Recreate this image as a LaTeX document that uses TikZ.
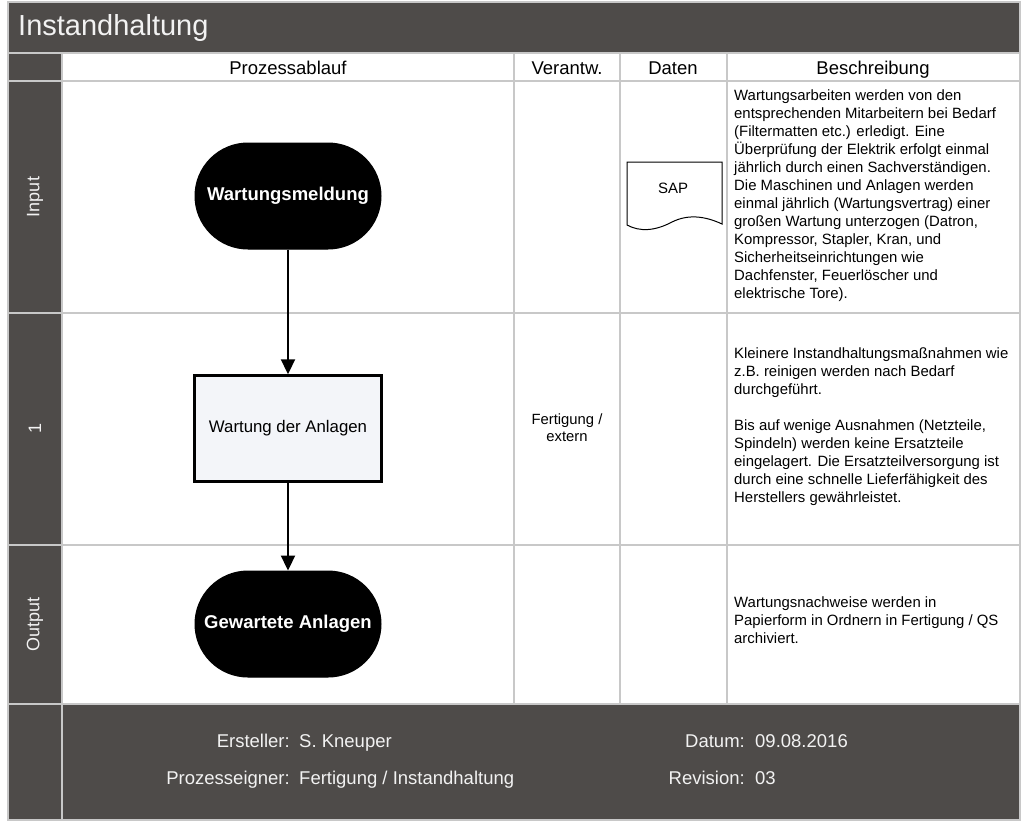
\documentclass[tikz,border=0pt]{standalone}
\usepackage{fontspec}
\setmainfont{Liberation Sans}
\usetikzlibrary{arrows.meta}
\definecolor{darkbg}{HTML}{4E4B49}
\definecolor{gridc}{HTML}{C8C8C8}
\definecolor{boxfill}{HTML}{F3F5F9}
\definecolor{lighttxt}{HTML}{F2F2F2}
\tikzset{
  gridline/.style={draw=gridc, line width=1.6pt},
  stadium/.style={draw=black, fill=black, line width=1pt, rounded corners=53pt,
    minimum width=186pt, minimum height=106pt, text=white,
    font=\fontsize{18.5}{22}\selectfont\bfseries},
  procbox/.style={draw=black, fill=boxfill, line width=2.5pt,
    minimum width=187pt, minimum height=106pt,
    font=\fontsize{16.8}{20}\selectfont},
  flowarrow/.style={draw=black, line width=2.2pt, -{Triangle[length=15pt,width=14pt]}},
  headtxt/.style={font=\fontsize{18.5}{22}\selectfont, inner sep=0pt, anchor=base},
  desctxt/.style={font=\fontsize{14.9}{18}\selectfont, align=left, anchor=west, inner sep=0pt},
  sidetxt/.style={font=\fontsize{18}{22}\selectfont, text=lighttxt, rotate=90, inner sep=0pt},
  foottxt/.style={font=\fontsize{18.5}{22}\selectfont, text=lighttxt, inner sep=0pt},
  smalltxt/.style={font=\fontsize{14.8}{17}\selectfont, align=center, inner sep=0pt}
}
\begin{document}
\begin{tikzpicture}[x=1pt,y=-1pt]
\useasboundingbox (0,0) rectangle (1024,823);
\fill[white] (0,0) rectangle (1024,823);
% dark areas
\fill[darkbg] (8,2) rectangle (1020,53);
\fill[darkbg] (8,53) rectangle (62,820);
\fill[darkbg] (62,704) rectangle (1020,820);
% grid
\draw[gridline] (8,53) -- (1020,53);
\draw[gridline] (8,81) -- (1020,81);
\draw[gridline] (8,313) -- (1020,313);
\draw[gridline] (8,545) -- (1020,545);
\draw[gridline] (8,704) -- (1020,704);
\draw[gridline] (62,53) -- (62,820);
\draw[gridline] (514,53) -- (514,704);
\draw[gridline] (620,53) -- (620,704);
\draw[gridline] (727,53) -- (727,704);
\draw[gridline] (8,2) rectangle (1020,820);
% title
\node[font=\fontsize{29}{34}\selectfont, text=lighttxt, anchor=base west, inner sep=0pt] (title) at (18,35) {Instandhaltung};
% header
\node[headtxt] (h1) at (288,74) {Prozessablauf};
\node[headtxt] (h2) at (567,74) {Verantw.};
\node[headtxt] (h3) at (673,74) {Daten};
\node[headtxt] (h4) at (873,74) {Beschreibung};
% side labels
\node[sidetxt] (s1) at (35,197) {Input};
\node[sidetxt] (s2) at (35,428) {1};
\node[sidetxt] (s3) at (35,624) {Output};
% flow
\node[stadium] (wm) at (288,196) {Wartungsmeldung};
\node[procbox] (wa) at (288,428.5) {Wartung der Anlagen};
\node[stadium] (ga) at (288,624) {Gewartete Anlagen};
\draw[flowarrow] (wm.south) -- (wa.north);
\draw[flowarrow] (wa.south) -- (ga.north);
% document shape
\draw[black, line width=1pt, fill=white] (627,162) -- (722,162) -- (722,224)
  .. controls (705,216) and (688,214) .. (672,222)
  .. controls (655,231) and (640,232) .. (627,225) -- cycle;
\node[font=\fontsize{15}{18}\selectfont, inner sep=0pt, anchor=base] (sap) at (673,193) {SAP};
% responsibility
\node[smalltxt] (resp) at (567,428) {Fertigung /\\extern};
% descriptions
\node[desctxt] (d1) at (734,196) {Wartungsarbeiten werden von den\\
entsprechenden Mitarbeitern bei Bedarf\\
(Filtermatten etc.) erledigt. Eine\\
Überprüfung der Elektrik erfolgt einmal\\
jährlich durch einen Sachverständigen.\\
Die Maschinen und Anlagen werden\\
einmal jährlich (Wartungsvertrag) einer\\
großen Wartung unterzogen (Datron,\\
Kompressor, Stapler, Kran, und\\
Sicherheitseinrichtungen wie\\
Dachfenster, Feuerlöscher und\\
elektrische Tore).};
\node[desctxt] (d2) at (734,427) {Kleinere Instandhaltungsmaßnahmen wie\\
z.B. reinigen werden nach Bedarf\\
durchgeführt.\\[18pt]
Bis auf wenige Ausnahmen (Netzteile,\\
Spindeln) werden keine Ersatzteile\\
eingelagert. Die Ersatzteilversorgung ist\\
durch eine schnelle Lieferfähigkeit des\\
Herstellers gewährleistet.};
\node[desctxt] (d3) at (734,620) {Wartungsnachweise werden in\\
Papierform in Ordnern in Fertigung / QS\\
archiviert.};
% footer
\node[foottxt, anchor=base east] (f1l) at (290,747) {Ersteller:};
\node[foottxt, anchor=base west] (f1v) at (299,747) {S. Kneuper};
\node[foottxt, anchor=base east] (f2l) at (290,784) {Prozesseigner:};
\node[foottxt, anchor=base west] (f2v) at (299,784) {Fertigung / Instandhaltung};
\node[foottxt, anchor=base east] (f3l) at (745,747) {Datum:};
\node[foottxt, anchor=base west] (f3v) at (755,747) {09.08.2016};
\node[foottxt, anchor=base east] (f4l) at (745,784) {Revision:};
\node[foottxt, anchor=base west] (f4v) at (755,784) {03};
\end{tikzpicture}
\end{document}
